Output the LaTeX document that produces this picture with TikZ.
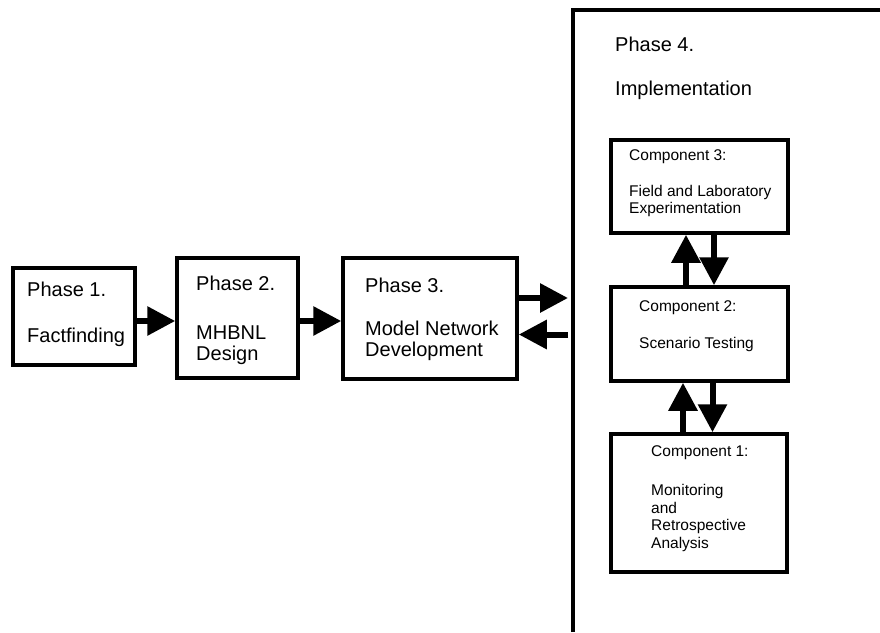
\documentclass[tikz,border=0pt]{standalone}
\usepackage{fontspec}
\setmainfont{Liberation Sans}
\usetikzlibrary{arrows.meta,calc}

\tikzset{
  box/.style={draw, line width=3.5pt, fill=white, inner sep=0pt},
  phasetxt/.style={anchor=west, inner sep=0pt, align=left,
    font=\fontsize{20}{21}\selectfont},
  comptxt/.style={anchor=west, inner sep=0pt, align=left,
    font=\fontsize{15.5}{17.5}\selectfont},
  flow/.style={line width=6pt, -{Triangle[length=28pt,width=28pt]}},
}

\begin{document}
\begin{tikzpicture}[x=1pt, y=-1pt]
\useasboundingbox (0,0) rectangle (880,632);

% phase boxes
\node[box, minimum width=122pt, minimum height=97pt]  (p1) at (74,316.5) {};
\node[box, minimum width=121pt, minimum height=120pt] (p2) at (237.5,318) {};
\node[box, minimum width=174pt, minimum height=121pt] (p3) at (430,318.5) {};

% phase 4 frame, open to the right and bottom
\draw[line width=3.5pt] (573,632) -- (573,10) -- (880,10);
\coordinate (p4w) at (573,318);

% component boxes inside phase 4
\node[box, minimum width=177pt, minimum height=93pt]  (c3) at (699.5,186.5) {};
\node[box, minimum width=177pt, minimum height=94pt]  (c2) at (699.5,334) {};
\node[box, minimum width=176pt, minimum height=138pt] (c1) at (699,503) {};

% texts
\node[phasetxt] (t1a) at (27,289) {Phase 1.};
\node[phasetxt] (t1b) at (27,337) {Factfinding};
\node[phasetxt] (t2a) at (196,283) {Phase 2.};
\node[phasetxt] (t2b) at (196,345) {MHBNL\\Design};
\node[phasetxt] (t3a) at (365,285) {Phase 3.};
\node[phasetxt] (t3b) at (365,341) {Model Network\\Development};
\node[phasetxt] (t4a) at (615,44) {Phase 4.};
\node[phasetxt] (t4b) at (615,90) {Implementation};

\node[comptxt] (k3a) at (629,157) {Component 3:};
\node[comptxt] (k3b) at (629,201) {Field and Laboratory\\Experimentation};
\node[comptxt] (k2a) at (639,308) {Component 2:};
\node[comptxt] (k2b) at (639,344) {Scenario Testing};
\node[comptxt] (k1a) at (651,453) {Component 1:};
\node[comptxt] (k1b) at (651,518) {Monitoring\\and\\Retrospective\\Analysis};

% phase connectors
\draw[flow] ([yshift=-4.5pt]p1.east) coordinate (a1) -- (a1 -| p2.west);
\draw[flow] ([yshift=-3pt]p2.east) coordinate (a2) -- (a2 -| p3.west);
\draw[flow, shorten >=5pt] ([yshift=20.5pt]p3.east) coordinate (a3) -- (a3 -| p4w);
\draw[flow, shorten <=5pt] ([yshift=-16.5pt]p4w) coordinate (a4) -- (a4 -| p3.east);

% component connectors
\draw[flow] ([xshift=-13.5pt]c2.north) coordinate (b1) -- (b1 |- c3.south);
\draw[flow] ([xshift=14.5pt]c3.south) coordinate (b2) -- (b2 |- c2.north);
\draw[flow] ([xshift=-16pt]c1.north) coordinate (b3) -- (b3 |- c2.south);
\draw[flow] ([xshift=13pt]c2.south) coordinate (b4) -- (b4 |- c1.north);
\end{tikzpicture}
\end{document}
